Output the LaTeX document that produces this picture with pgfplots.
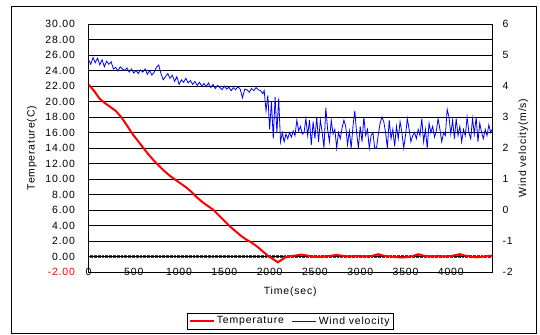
\documentclass[border=0pt]{standalone}
\usepackage{fontspec}
\setmainfont{Liberation Sans}[LetterSpace=8]
\usepackage{pgfplots}
\pgfplotsset{compat=1.18}
\pgfplotstableread{
t T
0 22.2
60 21.4
120 20.4
180 19.8
240 19.3
300 18.8
360 18.0
420 17.0
480 15.9
540 15.0
600 14.1
660 13.2
720 12.4
780 11.7
840 11.0
900 10.4
960 9.9
1020 9.4
1080 8.9
1140 8.3
1200 7.6
1260 7.0
1320 6.5
1380 6.0
1440 5.3
1500 4.6
1560 3.9
1620 3.3
1680 2.7
1740 2.2
1800 1.8
1860 1.3
1920 0.7
1980 0.1
2040 -0.35
2090 -0.75
2130 -0.45
2180 -0.05
2240 0.05
2300 0.15
2350 0.25
2420 0.1
2480 0.0
2540 -0.05
2600 0.0
2680 0.1
2740 0.2
2800 0.1
2880 0.0
2960 0.05
3040 0.0
3120 0.05
3200 0.3
3260 0.1
3340 0.0
3420 -0.1
3500 -0.1
3580 0.05
3640 0.3
3700 0.1
3780 0.0
3860 0.05
3940 0.0
4020 0.1
4100 0.3
4160 0.1
4220 0.0
4280 -0.1
4340 -0.05
4400 0.05
4455 0.1
}\temptable
\pgfplotstableread{
t W
0 4.85
25 4.7
50 4.92
75 4.75
100 4.9
125 4.68
150 4.85
175 4.62
200 4.8
225 4.7
250 4.78
275 4.55
300 4.6
325 4.48
350 4.62
375 4.55
400 4.5
425 4.58
450 4.45
475 4.55
500 4.42
525 4.5
550 4.4
575 4.52
600 4.45
625 4.55
650 4.38
675 4.5
700 4.35
725 4.45
750 4.6
775 4.68
800 4.4
825 4.2
850 4.3
875 4.4
900 4.25
925 4.35
950 4.15
975 4.3
1000 4.05
1025 4.2
1050 4.12
1075 4.25
1100 4.1
1125 4.18
1150 4.05
1175 4.15
1200 4.02
1225 4.12
1250 4.0
1275 4.08
1300 3.98
1325 4.1
1350 3.95
1375 4.05
1400 3.92
1425 4.02
1450 3.95
1475 3.88
1500 4.0
1525 3.9
1550 3.96
1575 3.85
1600 3.95
1625 3.88
1650 3.98
1675 3.9
1700 3.62
1725 3.9
1750 3.88
1775 3.8
1800 3.92
1825 3.85
1850 3.95
1875 3.88
1900 3.85
1925 3.75
1940 3.85
1960 3.2
1980 3.7
2000 2.6
2020 3.5
2040 2.3
2060 3.65
2080 2.5
2100 3.6
2120 2.2
2140 2.5
2160 2.2
2180 2.45
2200 2.3
2220 2.5
2240 2.35
2260 2.55
2280 2.4
2300 2.9
2320 2.55
2340 2.7
2360 2.45
2380 2.5
2400 2.95
2420 2.4
2440 2.9
2460 2.1
2480 2.85
2500 2.3
2520 3.0
2540 2.2
2560 2.9
2580 2.5
2600 2.0
2620 3.3
2640 2.6
2660 2.2
2680 2.9
2700 2.45
2720 2.6
2740 2.0
2760 2.5
2780 2.3
2800 2.65
2820 2.9
2840 2.7
2860 2.1
2880 2.55
2900 2.0
2920 2.7
2940 3.2
2960 2.5
2980 2.0
3000 2.7
3020 2.2
3040 3.0
3060 2.4
3080 2.6
3100 2.0
3120 2.4
3140 2.5
3160 2.0
3180 2.0
3200 2.45
3220 2.8
3240 3.0
3260 2.85
3280 2.5
3300 2.0
3320 2.9
3340 2.3
3360 2.6
3380 2.05
3400 2.7
3420 2.3
3440 2.85
3460 2.5
3480 2.0
3500 2.4
3520 2.95
3540 2.6
3560 2.2
3580 2.4
3600 2.5
3620 2.3
3640 2.6
3660 2.4
3680 2.95
3700 2.2
3720 2.6
3740 2.0
3760 2.8
3780 2.5
3800 2.7
3820 2.35
3840 2.55
3860 2.95
3880 2.6
3900 2.2
3920 2.5
3940 2.4
3960 3.25
3980 3.0
4000 2.45
4020 2.9
4040 2.3
4060 2.95
4080 2.4
4100 2.7
4120 2.2
4140 2.6
4160 2.4
4180 3.0
4200 2.5
4220 2.3
4240 2.95
4260 2.45
4280 3.0
4300 2.2
4320 2.8
4340 2.5
4360 2.3
4380 2.6
4400 2.4
4420 2.75
4440 2.5
4455 2.6
}\windtable
\begin{document}
\begin{tikzpicture}
\pgfplotsset{
  base/.style={scale only axis, width=403.5bp, height=248bp, xmin=0, xmax=4455,
    at={(0,0)}, anchor=south west},
}
\draw[black, line width=0.8bp] (-77.5bp,-61bp) rectangle (447.5bp,266bp);
% hatched zero line
\begin{axis}[base, ymin=-2, ymax=30, axis x line=middle, x axis line style={-, black!80, line width=0.8bp},
  hide y axis, xtick={0,15,...,4450}, xticklabels={}, major tick length=3.6bp,
  tick align=center, every tick/.style={black!75, line width=0.6bp}]
\addplot[draw=none] coordinates {(0,0)};
\end{axis}
% temperature
\begin{axis}[base, ymin=-2, ymax=30,
  ytick={-2,0,...,30},
  yticklabels={{\color{red}-2.00},0.00,2.00,4.00,6.00,8.00,10.00,12.00,14.00,16.00,18.00,20.00,22.00,24.00,26.00,28.00,30.00},
  xtick={0,500,...,4000},
  xticklabels={0,500,1000,1500,2000,2500,3000,3500,4000},
  xticklabel style={anchor=center},
  yticklabel style={anchor=east, xshift=-10bp},
  major tick length=0pt,
  ymajorgrids, grid style={black, line width=0.6bp},
  axis line style={black, line width=0.8bp},
  tick label style={font=\fontsize{10.5}{12}\selectfont},
  label style={font=\fontsize{10.5}{12}\selectfont},
  xlabel={Time(sec)},
  xlabel style={at={(axis description cs:0.5,-0.0806)}, anchor=center},
  ylabel={Temperature(C)},
  ylabel style={at={(axis description cs:-0.14,0.5)}, anchor=center},
]
\addplot[red, line width=2bp] table[x=t, y=T] {\temptable};
\end{axis}
% wind velocity
\begin{axis}[base, ymin=-2, ymax=6,
  axis y line*=right, axis x line=none,
  ytick={-2,-1,0,1,2,3,4,5,6},
  yticklabels={-2,-1,0,1,2,3,4,5,6},
  yticklabel style={anchor=west, xshift=7bp},
  major tick length=0pt,
  axis line style={black, line width=0.8bp},
  tick label style={font=\fontsize{10.5}{12}\selectfont},
  label style={font=\fontsize{10.5}{12}\selectfont},
  ylabel={Wind velocity(m/s)},
  ylabel style={at={(axis description cs:1.078,0.5)}, anchor=center, rotate=0},
  legend style={at={(axis description cs:0.5,-0.1976)}, anchor=center, draw=black,
    line width=0.6bp, font=\fontsize{10.5}{12}\selectfont, inner sep=1.5bp,
    /tikz/every even column/.append style={column sep=6bp}},
  legend columns=2,
  legend image code/.code={\draw[#1] (0bp,0bp) -- (24bp,0bp);},
]
\addlegendimage{red, line width=2bp}
\addlegendentry{Temperature}
\addplot[blue, line width=0.8bp] table[x=t, y=W] {\windtable};
\addlegendentry{Wind velocity}
\end{axis}
\pgfresetboundingbox
\path (-88.5bp,-63bp) rectangle (451.5bp,272bp);
\end{tikzpicture}
\end{document}
